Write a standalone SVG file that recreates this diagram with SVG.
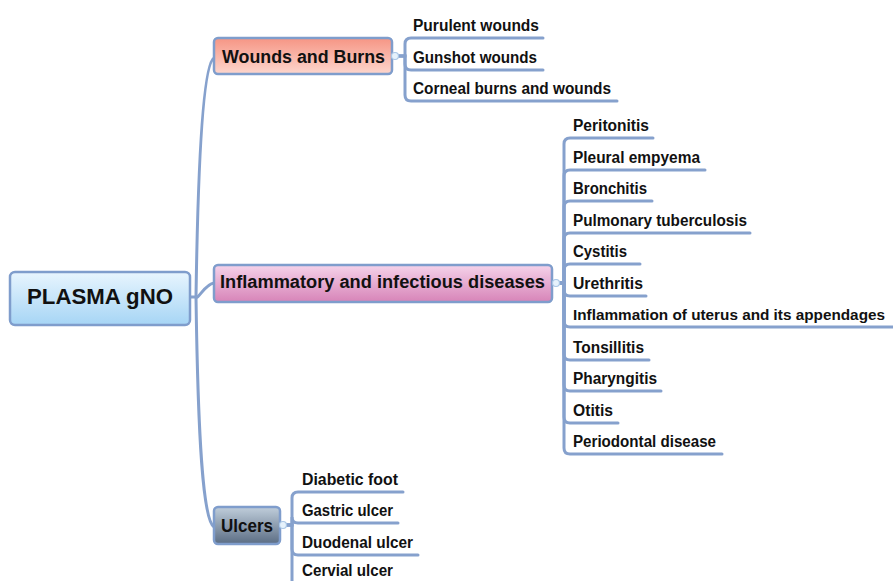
<svg xmlns="http://www.w3.org/2000/svg" width="893" height="581" viewBox="0 0 893 581">
<defs>
<linearGradient id="gRoot" x1="0" y1="0" x2="0" y2="1"><stop offset="0" stop-color="#e8f5fe"/><stop offset="1" stop-color="#a6d5f5"/></linearGradient>
<linearGradient id="gWound" x1="0" y1="0" x2="0" y2="1"><stop offset="0" stop-color="#f69584"/><stop offset="1" stop-color="#fdd6cd"/></linearGradient>
<linearGradient id="gInfl" x1="0" y1="0" x2="0" y2="1"><stop offset="0" stop-color="#f5d3ea"/><stop offset="1" stop-color="#d784b8"/></linearGradient>
<linearGradient id="gUlc" x1="0" y1="0" x2="0" y2="1"><stop offset="0" stop-color="#c0cedb"/><stop offset="1" stop-color="#5b6d84"/></linearGradient>
</defs>
<style>
.box{stroke:#7f9dcc;stroke-width:2.5}
.t{font-family:"Liberation Sans",Arial,sans-serif;font-weight:bold;fill:#111}
.c{font-size:16px}
.cs{font-size:15.5px}
.b{font-size:18px}
.r{font-size:22px}
.ln{fill:none;stroke:#86a1cd;stroke-width:3;stroke-linecap:round}
.dot{fill:#e6f2fc;stroke:#a9c6e6;stroke-width:1.2}
</style>
<g id="connectors">
<path class="ln" d="M189,297 L196,297"/>
<path class="ln" d="M196,297 C198,160 203,64 214,58"/>
<path class="ln" d="M196,297 C198,300 205,284 214,283"/>
<path class="ln" d="M196,297 C198,440 203,520 214,527"/>
<path class="ln" d="M395,56 L405,56 L405,44 Q405,38 411,38 L543,38"/>
<path class="ln" d="M395,56 L405,56 L405,64 Q405,70 411,70 L543,70"/>
<path class="ln" d="M395,56 L405,56 L405,95 Q405,101 411,101 L617,101"/>
<path class="ln" d="M556,283 L564,283 L564,144 Q564,138 570,138 L653,138"/>
<path class="ln" d="M556,283 L564,283 L564,176 Q564,170 570,170 L705,170"/>
<path class="ln" d="M556,283 L564,283 L564,207 Q564,201 570,201 L652,201"/>
<path class="ln" d="M556,283 L564,283 L564,239 Q564,233 570,233 L750,233"/>
<path class="ln" d="M556,283 L564,283 L564,270 Q564,264 570,264 L640,264"/>
<path class="ln" d="M556,283 L564,283 L564,290 Q564,296 570,296 L646,296"/>
<path class="ln" d="M556,283 L564,283 L564,321 Q564,327 570,327 L893,327"/>
<path class="ln" d="M556,283 L564,283 L564,354 Q564,360 570,360 L649,360"/>
<path class="ln" d="M556,283 L564,283 L564,385 Q564,391 570,391 L661,391"/>
<path class="ln" d="M556,283 L564,283 L564,417 Q564,423 570,423 L618,423"/>
<path class="ln" d="M556,283 L564,283 L564,448 Q564,454 570,454 L722,454"/>
<path class="ln" d="M283,525 L292,525 L292,498 Q292,492 298,492 L403,492"/>
<path class="ln" d="M283,525 L292,525 L292,517 Q292,523 298,523 L398,523"/>
<path class="ln" d="M283,525 L292,525 L292,549 Q292,555 298,555 L418,555"/>
<path class="ln" d="M283,525 L292,525 L292,581 Q292,587 298,587 L400,587"/>
</g>
<g id="root">
<rect class="box" x="10" y="272" width="180" height="53" rx="5" fill="url(#gRoot)"/>
<text class="t r" x="100" y="304" text-anchor="middle" textLength="146" lengthAdjust="spacingAndGlyphs">PLASMA gNO</text>
</g>
<g id="wounds">
<rect class="box" x="214" y="38" width="178" height="36" rx="4" fill="url(#gWound)"/>
<circle class="dot" cx="395" cy="56" r="3.5"/>
<text class="t b" x="222" y="63" textLength="163" lengthAdjust="spacingAndGlyphs">Wounds and Burns</text>
</g>
<g id="inflammatory">
<rect class="box" x="214" y="265" width="338" height="37" rx="4" fill="url(#gInfl)"/>
<circle class="dot" cx="556" cy="283" r="3.5"/>
<text class="t b" x="220" y="288" textLength="325" lengthAdjust="spacingAndGlyphs">Inflammatory and infectious diseases</text>
</g>
<g id="ulcers">
<rect class="box" x="214" y="507" width="66" height="37" rx="4" fill="url(#gUlc)"/>
<circle class="dot" cx="283" cy="525" r="3.5"/>
<text class="t b" x="221" y="532" textLength="52" lengthAdjust="spacingAndGlyphs">Ulcers</text>
</g>
<g id="w1"><text class="t c" x="413" y="31" textLength="126" lengthAdjust="spacingAndGlyphs">Purulent wounds</text></g>
<g id="w2"><text class="t c" x="413" y="63" textLength="124" lengthAdjust="spacingAndGlyphs">Gunshot wounds</text></g>
<g id="w3"><text class="t c" x="413" y="94" textLength="198" lengthAdjust="spacingAndGlyphs">Corneal burns and wounds</text></g>
<g id="i1"><text class="t c" x="573" y="131" textLength="76" lengthAdjust="spacingAndGlyphs">Peritonitis</text></g>
<g id="i2"><text class="t c" x="573" y="163" textLength="127" lengthAdjust="spacingAndGlyphs">Pleural empyema</text></g>
<g id="i3"><text class="t c" x="573" y="194" textLength="74" lengthAdjust="spacingAndGlyphs">Bronchitis</text></g>
<g id="i4"><text class="t c" x="573" y="226" textLength="174" lengthAdjust="spacingAndGlyphs">Pulmonary tuberculosis</text></g>
<g id="i5"><text class="t c" x="573" y="257" textLength="54" lengthAdjust="spacingAndGlyphs">Cystitis</text></g>
<g id="i6"><text class="t c" x="573" y="289" textLength="70" lengthAdjust="spacingAndGlyphs">Urethritis</text></g>
<g id="i7"><text class="t cs" x="573" y="320" textLength="312" lengthAdjust="spacingAndGlyphs">Inflammation of uterus and its appendages</text></g>
<g id="i8"><text class="t c" x="573" y="353" textLength="71" lengthAdjust="spacingAndGlyphs">Tonsillitis</text></g>
<g id="i9"><text class="t c" x="573" y="384" textLength="84" lengthAdjust="spacingAndGlyphs">Pharyngitis</text></g>
<g id="i10"><text class="t c" x="573" y="416" textLength="40" lengthAdjust="spacingAndGlyphs">Otitis</text></g>
<g id="i11"><text class="t c" x="573" y="447" textLength="143" lengthAdjust="spacingAndGlyphs">Periodontal disease</text></g>
<g id="u1"><text class="t c" x="302" y="485" textLength="96" lengthAdjust="spacingAndGlyphs">Diabetic foot</text></g>
<g id="u2"><text class="t c" x="302" y="516" textLength="91" lengthAdjust="spacingAndGlyphs">Gastric ulcer</text></g>
<g id="u3"><text class="t c" x="302" y="548" textLength="111" lengthAdjust="spacingAndGlyphs">Duodenal ulcer</text></g>
<g id="u4"><text class="t c" x="302" y="576" textLength="91" lengthAdjust="spacingAndGlyphs">Cervial ulcer</text></g>
</svg>
